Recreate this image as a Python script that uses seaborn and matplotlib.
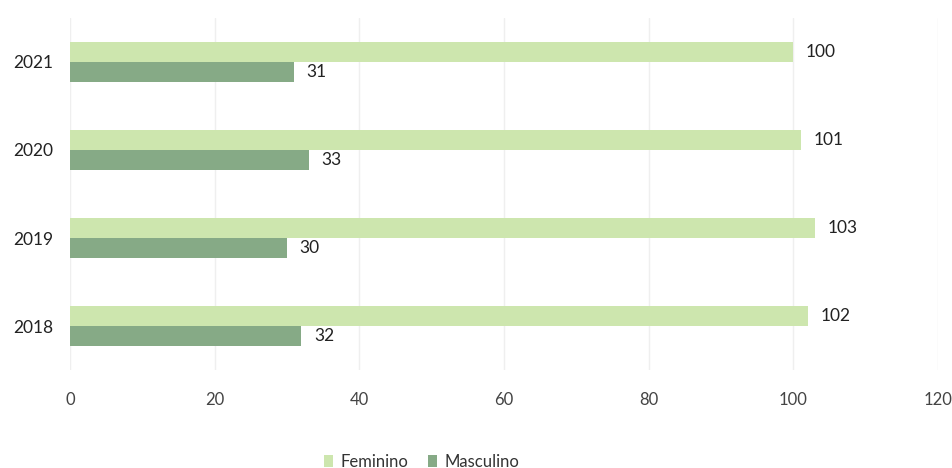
import matplotlib
matplotlib.use("Agg")
import matplotlib.pyplot as plt
import seaborn as sns
import pandas as pd

years = ["2021", "2020", "2019", "2018"]
feminino = [100, 101, 103, 102]
masculino = [31, 33, 30, 32]
series = ["Feminino", "Masculino"]
colors = ["#cde6ae", "#86aa86"]
x_ticks = [0, 20, 40, 60, 80, 100, 120]

sns.set_theme(style="white")
plt.rcParams["font.family"] = ["Lato", "DejaVu Sans"]

df = pd.DataFrame({
    "Ano": years * 2,
    "Valor": feminino + masculino,
    "Sexo": [series[0]] * len(years) + [series[1]] * len(years),
})

fig = plt.figure(figsize=(9.52, 4.68), dpi=100)
ax = fig.add_axes([0.0735, 0.209, 0.912, 0.753])

sns.barplot(data=df, y="Ano", x="Valor", hue="Sexo", order=years,
            hue_order=series, palette=colors, orient="h", width=0.45,
            saturation=1, linewidth=0, ax=ax, legend=True)

for cont in ax.containers:
    ax.bar_label(cont, fmt="%d", padding=9, fontsize=12.5, color="#222222")

ax.set_xlim(0, 120)
ax.set_xticks(x_ticks)
ax.set_xticklabels([str(t) for t in x_ticks], fontsize=12, color="#444444")
ax.tick_params(axis="x", pad=16, length=0)
ax.tick_params(axis="y", pad=12, length=0, labelsize=12.5, labelcolor="#222222")
ax.set_xlabel("")
ax.set_ylabel("")
ax.xaxis.grid(True, color="#efefef", linewidth=1)
ax.set_axisbelow(True)
for s in ax.spines.values():
    s.set_visible(False)

leg = ax.legend(loc="center", bbox_to_anchor=(0.405, -0.26), ncol=2,
                frameon=False, fontsize=12, handlelength=0.55,
                handleheight=0.7, handletextpad=0.45, columnspacing=1.2)
for t in leg.get_texts():
    t.set_color("#333333")

fig.savefig("out.png", dpi=100, facecolor="white")
